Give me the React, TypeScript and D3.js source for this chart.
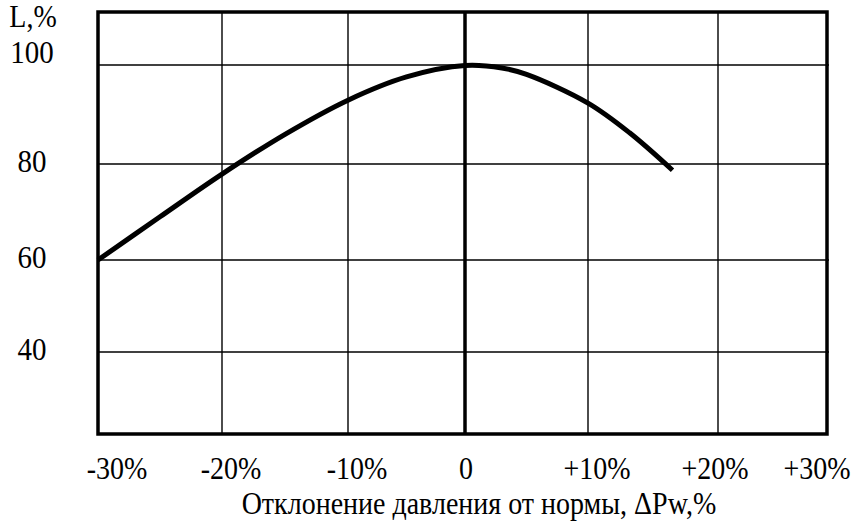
import React, { useEffect, useRef } from "react"
import * as d3 from "d3"

// deviation of pressure from the norm, %
const devX = [-30, -25, -20, -15, -10, -5, 0, 3, 5, 10, 13.2, 16.5]
// L, %
const valL = [60, 69, 77.9, 86, 92.9, 97.6, 99.9, 99.4, 98.1, 92.3, 86.3, 78.7]

const xTicks = [-30, -20, -10, 0, 10, 20, 30]
const xTickLabels = ["-30%", "-20%", "-10%", "0", "+10%", "+20%", "+30%"]
const yTicks = [40, 60, 80, 100]
const yTickLabels = ["40", "60", "80", "100"]

const yTitle = "L,%"
const xTitle = "Отклонение давления от нормы, ΔPw,%"

const W = 866
const H = 531
const font = "'Liberation Serif', 'Times New Roman', serif"

export default function App() {
  const ref = useRef<SVGSVGElement>(null)

  useEffect(() => {
    const svg = d3.select(ref.current)
    svg.selectAll("*").remove()

    // the grid in the original is drawn by hand, cells are not equal
    const x = d3
      .scaleLinear()
      .domain(xTicks)
      .range([98, 222, 348, 465, 588, 718, 827])
    const y = d3
      .scaleLinear()
      .domain([22, 40, 60, 80, 100, 110.7])
      .range([434, 352, 260, 164, 65, 12])

    const left = x(-30)
    const right = x(30)
    const top = y(110.7)
    const bottom = y(22)

    const g = svg.append("g")

    // vertical grid
    g.selectAll("line.vx")
      .data(xTicks.slice(1, -1))
      .enter()
      .append("line")
      .attr("x1", d => x(d))
      .attr("x2", d => x(d))
      .attr("y1", top)
      .attr("y2", bottom)
      .attr("stroke", "#000")
      .attr("stroke-width", d => (d === 0 ? 3.5 : 1.4))

    // horizontal grid
    g.selectAll("line.hy")
      .data(yTicks)
      .enter()
      .append("line")
      .attr("x1", left)
      .attr("x2", right + 2)
      .attr("y1", d => y(d))
      .attr("y2", d => y(d))
      .attr("stroke", "#000")
      .attr("stroke-width", 1.4)

    // frame
    g.append("rect")
      .attr("x", left)
      .attr("y", top)
      .attr("width", right - left)
      .attr("height", bottom - top)
      .attr("fill", "none")
      .attr("stroke", "#000")
      .attr("stroke-width", 3.5)

    // curve
    const line = d3
      .line<number>()
      .x((d, i) => x(devX[i]))
      .y(d => y(d))
      .curve(d3.curveCatmullRom.alpha(0.5))
    g.append("path")
      .attr("d", line(valL))
      .attr("fill", "none")
      .attr("stroke", "#000")
      .attr("stroke-width", 5)

    // text in the original is a bit stretched upward
    const stretched = (sel: any, px: (d: any) => number, py: (d: any) => number) =>
      sel.attr("transform", (d: any) => `translate(${px(d)},${py(d)}) scale(1,1.1)`)

    // y tick labels
    const yt = g
      .selectAll("text.yt")
      .data(yTicks)
      .enter()
      .append("text")
      .attr("text-anchor", "middle")
      .attr("font-family", font)
      .attr("font-size", 29)
      .text((d, i) => yTickLabels[i])
    stretched(yt, () => 32, d => y(d) + (d === 100 ? -2 : 8))

    const lt = g
      .append("text")
      .attr("text-anchor", "middle")
      .attr("font-family", font)
      .attr("font-size", 28)
      .text(yTitle)
    stretched(lt, () => 33, () => 27)

    // x tick labels, nudged like in the original
    const nudge = (v: number) => (v === -30 ? 19 : v === 30 ? -10 : v === 0 ? 1 : v === 20 ? -3 : 9)
    const xt = g
      .selectAll("text.xt")
      .data(xTicks)
      .enter()
      .append("text")
      .attr("text-anchor", "middle")
      .attr("font-family", font)
      .attr("font-size", 28)
      .text((d, i) => xTickLabels[i])
    stretched(xt, d => x(d) + nudge(d), () => 479)

    const tt = g
      .append("text")
      .attr("text-anchor", "middle")
      .attr("font-family", font)
      .attr("font-size", 28)
      .text(xTitle)
    stretched(tt, () => 479, () => 514)
  }, [])

  return (
    <svg
      ref={ref}
      width={W}
      height={H}
      style={{ position: "absolute", left: 0, top: 0, background: "#fff" }}
    />
  )
}
